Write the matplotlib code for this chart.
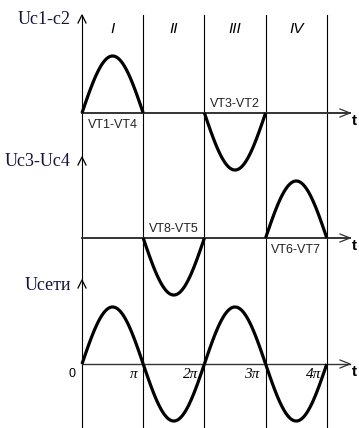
import numpy as np
import matplotlib.pyplot as plt

# half-period segments I..IV, polarity of each half wave
segments = ['I', 'II', 'III', 'IV']
uc12_sign = [1, 0, -1, 0]
uc34_sign = [0, -1, 0, 1]
grid_sign = [1, -1, 1, -1]

panel_names = ['Uc1-c2', 'Uc3-Uc4', 'Ucети']
switch_labels = [['VT1-VT4', None, 'VT3-VT2', None],
                 [None, 'VT8-VT5', None, 'VT6-VT7']]
switch_below = [[True, None, False, None],
                [None, False, None, True]]
tick_labels = ['π', '2π', '3π', '4π']

W, H = 359, 428
X0 = 82.0            # pixel of t = 0
KX = 61.2 / np.pi    # pixels per radian
AMP = 57.0           # pixels per unit amplitude
base_px = [113, 238, 364]

fig = plt.figure(figsize=(W / 100, H / 100), dpi=100)
ax = fig.add_axes([0, 0, 1, 1])
ax.set_xlim(-X0 / KX, (W - X0) / KX)
ax.set_ylim(-(H - base_px[0]) / AMP, base_px[0] / AMP)
ax.axis('off')

def dx(px):
    return px / KX

def dy(px):
    return px / AMP

def ylev(py):
    return (base_px[0] - py) / AMP

levels = [ylev(b) for b in base_px]
top_px = [15, 157, 280]

# vertical lines at t = 0, pi, 2pi, 3pi, 4pi
for k in range(len(segments) + 1):
    ax.plot([k * np.pi, k * np.pi], [ylev(top_px[0]), ylev(H)],
            color='black', lw=0.8, zorder=1)

# axis arrows
for lev, tp, lw in zip(levels, top_px, [1.4, 1.4, 1.0]):
    xend = dx(350 - X0)
    ax.plot([0, xend], [lev, lev], color='#333333', lw=lw, zorder=2)
    ax.plot([xend - dx(10), xend, xend - dx(10)],
            [lev + dy(4), lev, lev - dy(4)], color='#333333', lw=0.9)
    yt = ylev(tp)
    ax.plot([-dx(4), 0, dx(4)], [yt - dy(8), yt, yt - dy(8)],
            color='black', lw=0.9)
    ax.text(dx(352 - X0), lev - dy(8), 't', fontsize=11, fontweight='bold',
            family='Liberation Sans', ha='left', va='center')

# waveforms
ph = np.linspace(0, np.pi, 120)
for lev, signs in zip(levels, [uc12_sign, uc34_sign, grid_sign]):
    for k, s in enumerate(signs):
        if s == 0:
            continue
        ax.plot(k * np.pi + ph, lev + s * np.sin(ph), color='black',
                lw=2.3, solid_capstyle='butt', zorder=3)

# panel labels
for name, lev, tp in zip(panel_names, levels, top_px):
    ax.text(-dx(11), ylev(tp + 5), name, fontsize=13, family='Liberation Serif',
            color='#14143a', ha='right', va='center')

# segment numbers
for k, s in enumerate(segments):
    ax.text((k + 0.5) * np.pi, ylev(29), s, fontsize=11, style='italic',
            family='Liberation Sans', ha='center', va='center')

# switch pair labels
for lev, labs, below in zip(levels, switch_labels, switch_below):
    for k, lab in enumerate(labs):
        if lab is None:
            continue
        off = -dy(12) if below[k] else dy(9)
        ax.text((k + 0.5) * np.pi, lev + off, lab, fontsize=9,
                family='Liberation Sans', color='#222222',
                ha='center', va='center')

# phase ticks on the bottom axis
ax.text(-dx(10), levels[2] - dy(10), '0', fontsize=9,
        family='Liberation Sans', ha='center', va='center')
for k, lab in enumerate(tick_labels):
    ax.text((k + 1) * np.pi - dx(6), levels[2] - dy(11), lab, fontsize=11,
            family='Liberation Serif', style='italic',
            ha='right', va='center')

fig.savefig('out.png', dpi=100, facecolor='white')
